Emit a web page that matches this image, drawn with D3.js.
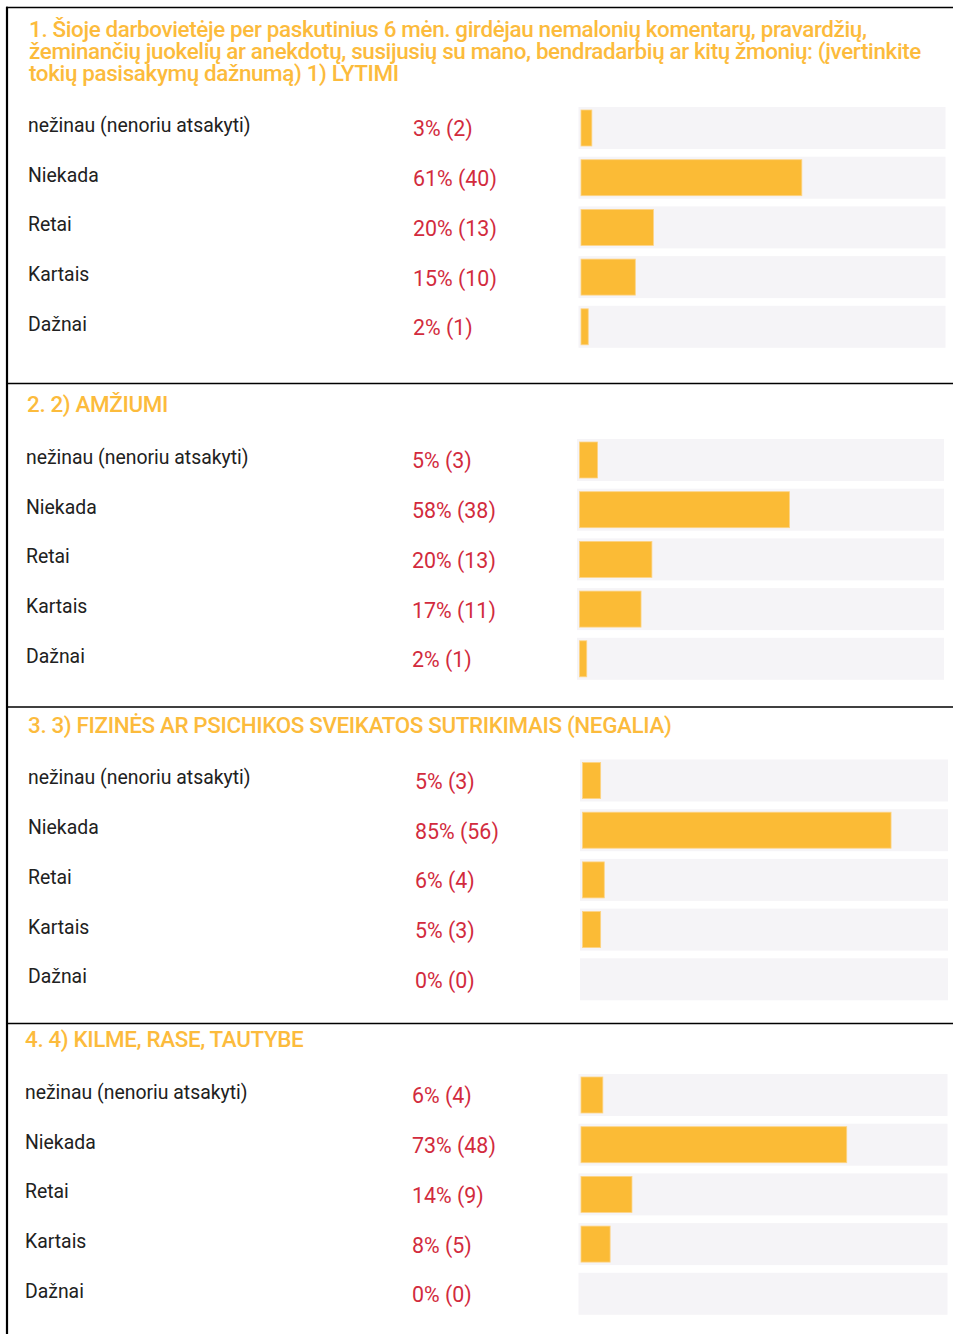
<html>
  <head>
    <script src="https://d3js.org/d3.v7.min.js"></script>
    <style>
      body {
        margin: 0;
        background: #fff;
      }
      text {
        font-family: Roboto, "Noto Sans", sans-serif;
      }
      .title {
        fill: #fcbb3c;
        font-size: 22.4px;
        font-weight: 500;
        letter-spacing: -0.35px;
      }
      .label {
        fill: #212121;
        font-size: 19.4px;
      }
      .pct {
        fill: #d22b3d;
        font-size: 21.4px;
      }
    </style>
  </head>

  <body>
    <svg id="chart" width="953" height="1334"></svg>

    <script>
      // answer options (same for every question)
      const categories = [
        "nežinau (nenoriu atsakyti)",
        "Niekada",
        "Retai",
        "Kartais",
        "Dažnai",
      ];

      const titles = [
        [
          "1. Šioje darbovietėje per paskutinius 6 mėn. girdėjau nemalonių komentarų, pravardžių,",
          "žeminančių juokelių ar anekdotų, susijusių su mano, bendradarbių ar kitų žmonių: (įvertinkite",
          "tokių pasisakymų dažnumą) 1) LYTIMI",
        ],
        ["2. 2) AMŽIUMI"],
        ["3. 3) FIZINĖS AR PSICHIKOS SVEIKATOS SUTRIKIMAIS (NEGALIA)"],
        ["4. 4) KILME, RASE, TAUTYBE"],
      ];

      // percent and count per question
      const pct1 = [3, 61, 20, 15, 2];
      const cnt1 = [2, 40, 13, 10, 1];
      const pct2 = [5, 58, 20, 17, 2];
      const cnt2 = [3, 38, 13, 11, 1];
      const pct3 = [5, 85, 6, 5, 0];
      const cnt3 = [3, 56, 4, 3, 0];
      const pct4 = [6, 73, 14, 8, 0];
      const cnt4 = [4, 48, 9, 5, 0];

      const pcts = [pct1, pct2, pct3, pct4];
      const cnts = [cnt1, cnt2, cnt3, cnt4];

      // layout of each block (the source screenshot is not perfectly regular)
      const layout = [
        { top: 7.5, titleY: 36.5, rowTop: 107, titleX: 29, labelX: 28, pctX: 413, bgX: 578.5, bgW: 367 },
        { top: 383.5, titleY: 412, rowTop: 439, titleX: 27, labelX: 26, pctX: 412, bgX: 577, bgW: 367 },
        { top: 707, titleY: 733, rowTop: 759.5, titleX: 28, labelX: 28, pctX: 415, bgX: 580, bgW: 368 },
        { top: 1023.5, titleY: 1047, rowTop: 1074, titleX: 25, labelX: 25, pctX: 412, bgX: 578.5, bgW: 369 },
      ];

      const svg = d3.select("svg#chart");
      const step = 49.7;
      const inset = 2.5;

      // frame lines
      svg
        .selectAll("line.sep")
        .data(layout)
        .join("line")
        .attr("class", "sep")
        .attr("x1", 6)
        .attr("x2", 953)
        .attr("y1", (d) => d.top)
        .attr("y2", (d) => d.top)
        .attr("stroke", "#000")
        .attr("stroke-width", 1.6);

      svg
        .append("line")
        .attr("x1", 7)
        .attr("x2", 7)
        .attr("y1", 6.7)
        .attr("y2", 1334)
        .attr("stroke", "#000")
        .attr("stroke-width", 2.2);

      layout.forEach((L, qi) => {
        const g = svg.append("g");

        g.selectAll("text.title")
          .data(titles[qi])
          .join("text")
          .attr("class", "title")
          .attr("x", L.titleX)
          .attr("y", (d, i) => L.titleY + i * 22)
          .text((d) => d);

        const y = d3
          .scaleBand()
          .domain(categories)
          .range([L.rowTop, L.rowTop + step * (categories.length - 0.155)])
          .paddingInner(0.155)
          .paddingOuter(0);

        const x = d3
          .scaleLinear()
          .domain([0, 100])
          .range([0, L.bgW - 2 * inset]);

        const rows = categories.map((c, i) => ({
          cat: c,
          pct: pcts[qi][i],
          cnt: cnts[qi][i],
        }));

        g.selectAll("rect.bg")
          .data(rows)
          .join("rect")
          .attr("class", "bg")
          .attr("x", L.bgX)
          .attr("y", (d) => y(d.cat))
          .attr("width", L.bgW)
          .attr("height", y.bandwidth())
          .attr("fill", "#f5f4f7");

        g.selectAll("rect.bar")
          .data(rows.filter((d) => d.pct > 0))
          .join("rect")
          .attr("class", "bar")
          .attr("x", L.bgX + inset)
          .attr("y", (d) => y(d.cat) + 3)
          .attr("width", (d) => x(d.pct))
          .attr("height", y.bandwidth() - 6)
          .attr("fill", "#fbbb36")
          .attr("stroke", "#fdd486")
          .attr("stroke-width", 0.8);

        g.selectAll("text.label")
          .data(rows)
          .join("text")
          .attr("class", "label")
          .attr("x", L.labelX)
          .attr("y", (d) => y(d.cat) + y.bandwidth() / 2 + 4)
          .text((d) => d.cat);

        g.selectAll("text.pct")
          .data(rows)
          .join("text")
          .attr("class", "pct")
          .attr("x", L.pctX)
          .attr("y", (d) => y(d.cat) + y.bandwidth() / 2 + 8.5)
          .text((d) => d.pct + "% (" + d.cnt + ")");
      });
    </script>
  </body>
</html>
